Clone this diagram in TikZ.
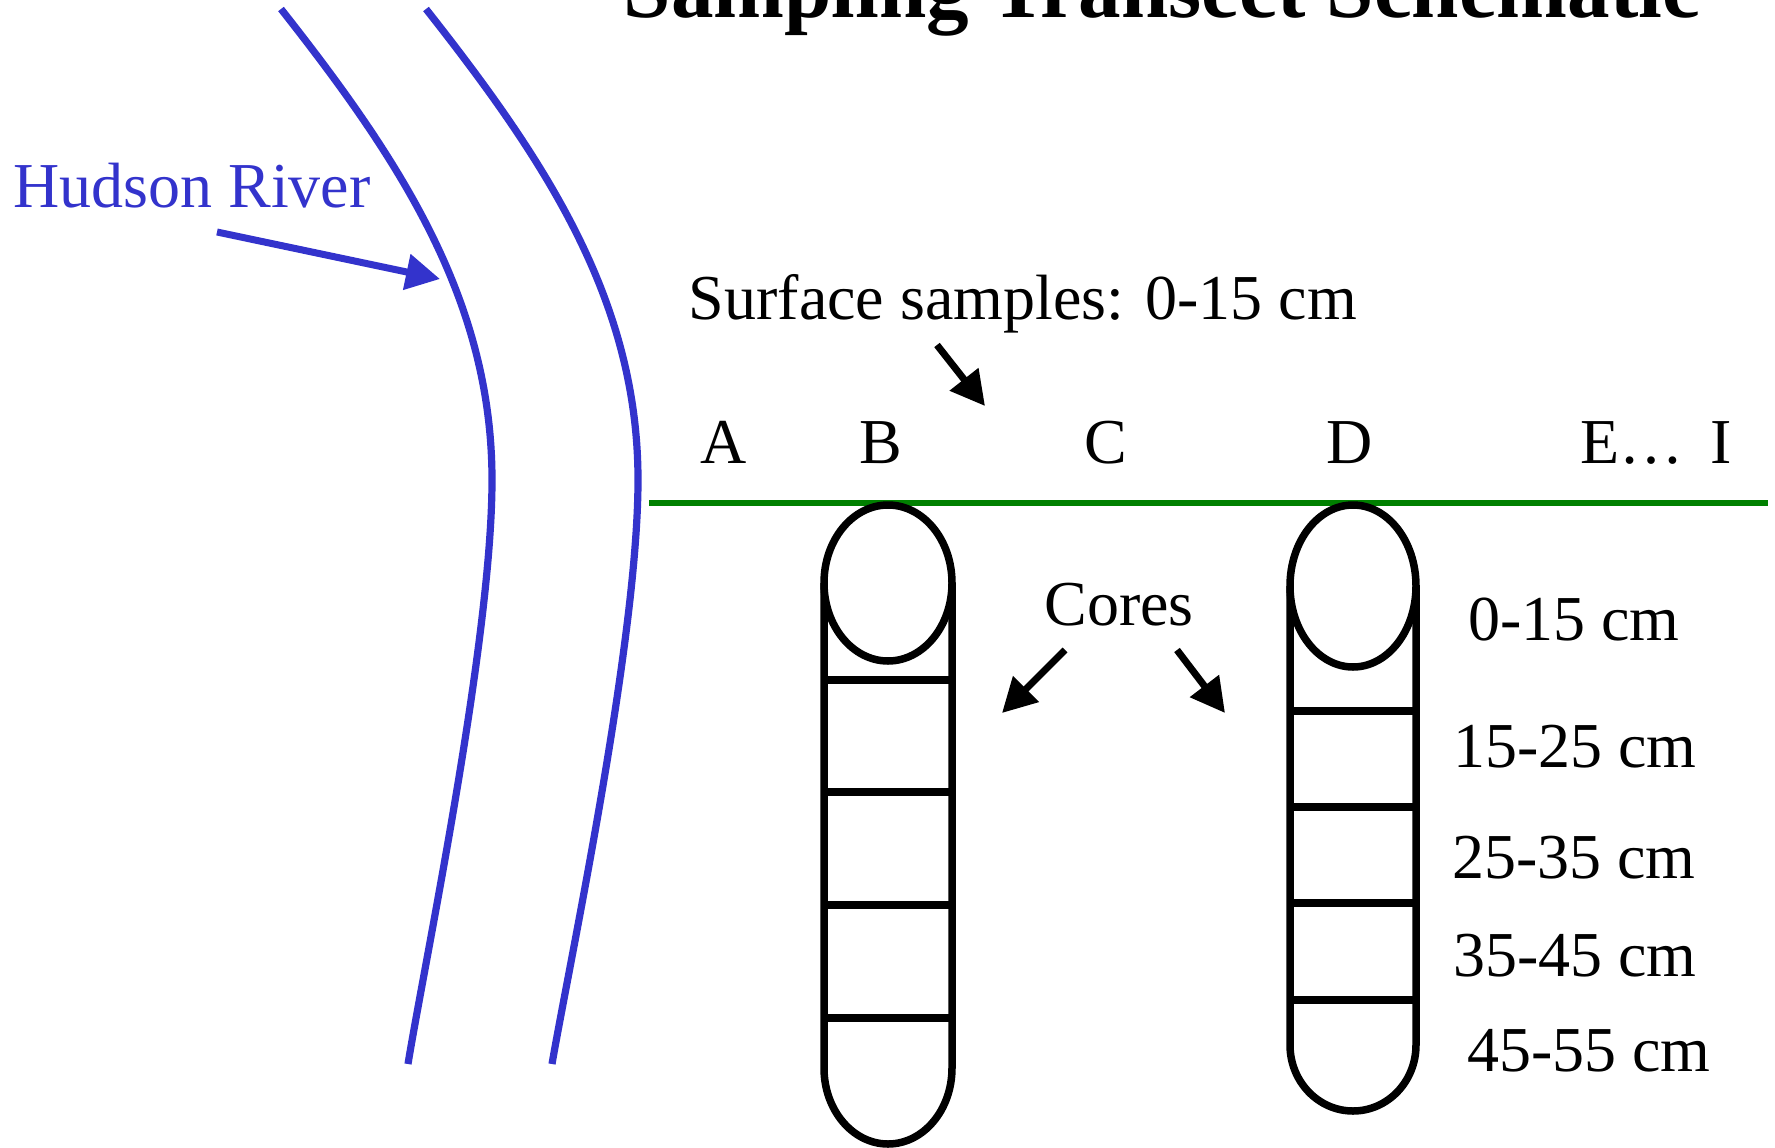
\documentclass[tikz,border=0pt]{standalone}
\usepackage{fontspec}
\setmainfont{Liberation Serif}
\usetikzlibrary{arrows.meta}
\definecolor{riverblue}{RGB}{51,51,204}
\definecolor{bankgreen}{RGB}{0,128,0}

\begin{document}
\begin{tikzpicture}[x=0.01cm, y=-0.01cm,
  txt/.style={inner sep=0pt, anchor=base, font={\fontsize{18.2}{20}\selectfont}},
  headtext/.style={inner sep=0pt, anchor=base, font={\fontsize{24.2}{26}\selectfont\bfseries}},
  river/.style={draw=riverblue, line width=0.072cm},
  shore/.style={draw=bankgreen, line width=0.06cm},
  core/.style={draw=black, line width=0.075cm},
  arrow/.style={-{Triangle[length=3.4mm, width=3.5mm]}, line width=0.07cm}
]
\useasboundingbox (0,0) rectangle (1775,1148);

\node[headtext] (title) at (1162,17) {Sampling Transect Schematic};

\node[txt, text=riverblue] (hudson) at (192,207) {Hudson River};
\node[txt] (surface) at (1023,319) {Surface samples: 0-15 cm};
\node[txt] (cores) at (1119,625) {Cores};

\node[txt] (sA) at (724,463) {A};
\node[txt] (sB) at (881,463) {B};
\node[txt] (sC) at (1106,463) {C};
\node[txt] (sD) at (1350,463) {D};
\node[txt, anchor=base west] (sEI) at (1580,463) {E…~\,I};

\node[txt] (d1) at (1574,640) {0-15 cm};
\node[txt] (d2) at (1575,767) {15-25 cm};
\node[txt] (d3) at (1574,878) {25-35 cm};
\node[txt] (d4) at (1575,976) {35-45 cm};
\node[txt] (d5) at (1589,1071) {45-55 cm};

\coordinate (hudtail) at (217,232);
\coordinate (hudtip)  at (440,279);
\coordinate (surftail) at (937,345);
\coordinate (surftip)  at (985,406);
\coordinate (coretailB) at (1065,650);
\coordinate (coretipB)  at (1002,713);
\coordinate (coretailD) at (1177,650);
\coordinate (coretipD)  at (1225,713);

\draw[river] (281,9) .. controls (400,160) and (492,300) .. (492,480)
  .. controls (492,640) and (425,960) .. (408,1064);
\draw[river] (426,9) .. controls (545,160) and (638,300) .. (638,480)
  .. controls (638,640) and (570,960) .. (552,1064);

\draw[shore] (649,503) -- (1768,503);

\draw[core] (824,583) -- (824,1068) arc[start angle=180, end angle=0, x radius=64, y radius=76] -- (952,583);
\draw[core, fill=white] (888,583) ellipse[x radius=64, y radius=78];
\foreach \y in {680,792,905,1018}
  \draw[core] (824,\y) -- (952,\y);

\draw[core] (1290,586) -- (1290,1045) arc[start angle=180, end angle=0, x radius=63, y radius=66] -- (1416,586);
\draw[core, fill=white] (1353,586) ellipse[x radius=63, y radius=81];
\foreach \y in {711,807,903,1000}
  \draw[core] (1290,\y) -- (1416,\y);

\draw[arrow, riverblue] (hudtail) -- (hudtip);
\draw[arrow] (surftail) -- (surftip);
\draw[arrow] (coretailB) -- (coretipB);
\draw[arrow] (coretailD) -- (coretipD);

\end{tikzpicture}
\end{document}
